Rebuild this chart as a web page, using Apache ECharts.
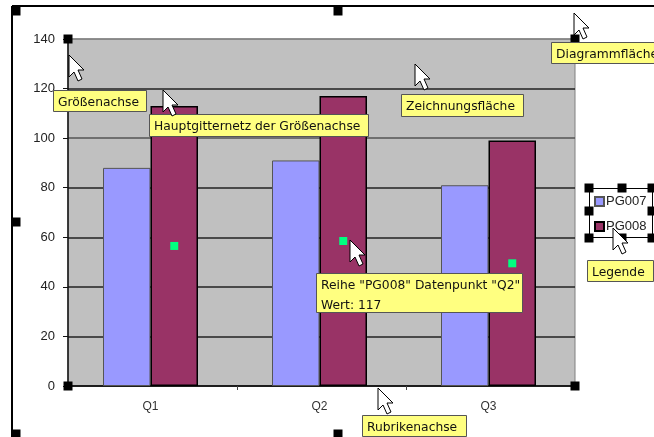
<!DOCTYPE html>
<html>
<head>
<meta charset="utf-8">
<style>
*{margin:0;padding:0;}
body{background:#fff;overflow:hidden;}
</style>
<script src="https://cdn.jsdelivr.net/npm/echarts@6/dist/echarts.min.js"></script>
</head>
<body>
<div id="main" style="width:654px;height:437px;"></div>
<script>
var categories = ['Q1', 'Q2', 'Q3'];
var pg007 = [88, 91, 81];
var pg008 = [113, 117, 99];
var tickLabels = ['0', '20', '40', '60', '80', '100', '120', '140'];

// callouts: text, left, top, width, height
var callouts = [
  ['Größenachse', 53, 90, 93, 21],
  ['Hauptgitternetz der Größenachse', 149, 114, 219, 22],
  ['Zeichnungsfläche', 401, 94, 122, 22],
  ['Diagrammfläche', 551, 42, 104, 21],
  ['Legende', 587, 260, 66, 21],
  ['Rubrikenachse', 362, 415, 104, 21],
  ['Reihe "PG008" Datenpunkt "Q2"\nWert: 117', 316, 273, 206, 39]
];
var cursors = [[69, 55], [163, 90], [415, 64], [574, 13], [350, 240], [378, 388], [613, 228]];
var handles = [
  [16, 11], [338, 11], [16, 222], [16, 434], [338, 434],
  [68, 39], [68, 386], [575, 39], [575, 386],
  [589, 188], [622, 188], [652, 188], [589, 211], [652, 211], [589, 238], [622, 238], [652, 238]
];

var graphic = [];
// chart frame, top and left edges only
graphic.push({type: 'line', z: 20, shape: {x1: 12, y1: 6, x2: 654, y2: 6}, style: {stroke: '#000', lineWidth: 2}});
graphic.push({type: 'line', z: 20, shape: {x1: 12, y1: 6, x2: 12, y2: 437}, style: {stroke: '#000', lineWidth: 2}});
// legend frame
graphic.push({type: 'rect', z: 1, shape: {x: 589.5, y: 188.5, width: 63, height: 49}, style: {fill: '#fff', stroke: '#000', lineWidth: 1}});

for (var i = 0; i < handles.length; i++) {
  graphic.push({type: 'rect', z: 30, shape: {x: handles[i][0] - 4.5, y: handles[i][1] - 4.5, width: 9, height: 9}, style: {fill: '#000'}});
}
for (var i = 0; i < callouts.length; i++) {
  var c = callouts[i];
  graphic.push({type: 'rect', z: 40, shape: {x: c[1] + 0.5, y: c[2] + 0.5, width: c[3], height: c[4]}, style: {fill: '#ffff80', stroke: '#555', lineWidth: 1}});
  graphic.push({type: 'text', z: 41, x: c[1] + 5, y: c[2] + 3, style: {text: c[0], fill: '#111', font: '12.3px "DejaVu Sans"', lineHeight: 20}});
}
// mouse pointers
for (var i = 0; i < cursors.length; i++) {
  var x = cursors[i][0], y = cursors[i][1];
  graphic.push({type: 'polygon', z: 50, shape: {points: [
    [x, y], [x, y + 22], [x + 5, y + 17], [x + 9, y + 26], [x + 13, y + 24], [x + 9, y + 15], [x + 15, y + 15]
  ]}, style: {fill: '#fff', stroke: '#000', lineWidth: 1}});
}

var myChart = echarts.init(document.getElementById('main'));
myChart.setOption({
  animation: false,
  backgroundColor: '#fff',
  textStyle: {fontFamily: '"Liberation Sans"'},
  grid: {left: 68, top: 39, width: 507, height: 347, show: true, backgroundColor: '#c0c0c0', borderColor: '#808080', borderWidth: 1},
  legend: {
    orient: 'vertical', left: 590, top: 195, padding: [0, 0, 0, 4], itemWidth: 9, itemHeight: 9, itemGap: 12, z: 5,
    icon: 'rect',
    textStyle: {fontSize: 13, color: '#222', padding: [0, 0, 0, -3], fontFamily: '"Liberation Sans"'},
    data: ['PG007', 'PG008']
  },
  xAxis: {
    type: 'category',
    data: categories,
    axisLine: {lineStyle: {color: '#111', width: 1.5}},
    axisTick: {show: true, length: 4, alignWithLabel: false, lineStyle: {color: '#444'}},
    axisLabel: {fontSize: 12, color: '#333', margin: 15, padding: [0, 4, 0, 0]}
  },
  yAxis: {
    type: 'value',
    min: 0,
    max: 140,
    interval: 20,
    axisLine: {show: true, lineStyle: {color: '#111', width: 1.5}},
    axisTick: {show: true, length: 5, lineStyle: {color: '#111'}},
    axisLabel: {
      fontSize: 13, color: '#222', margin: 13,
      formatter: function (v) { return tickLabels[v / 20]; }
    },
    splitLine: {show: true, lineStyle: {color: ['#222', '#222', '#222', '#222', '#222', '#555', '#222', '#808080'], width: 1.5}}
  },
  series: [
    {
      name: 'PG007', type: 'bar', data: pg007, barWidth: 47.5, barGap: 0,
      itemStyle: {color: '#9999ff', borderColor: '#555', borderWidth: 1}
    },
    {
      name: 'PG008', type: 'bar', data: pg008, barWidth: 47.5,
      itemStyle: {color: '#993366', borderColor: '#000', borderWidth: 1.5},
      // selected series marker in the middle of each bar
      label: {
        show: true, position: 'inside', formatter: '{m|}',
        rich: {m: {width: 8, height: 8, backgroundColor: '#00ff80'}}
      }
    },
    // empty, only moves the bar pair 2px left of the category centre like the original
    {name: 'spacer', type: 'bar', data: [], barWidth: 4}
  ],
  graphic: graphic
});
</script>
</body>
</html>
